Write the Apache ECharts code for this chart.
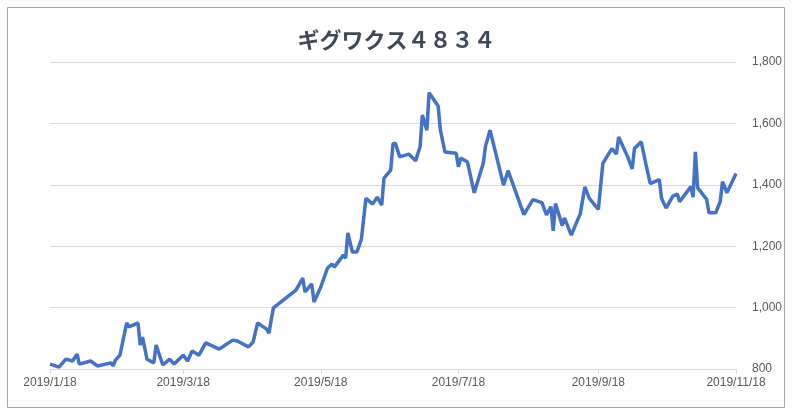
<!DOCTYPE html>
<html><head><meta charset="utf-8">
<script src="https://cdn.jsdelivr.net/npm/echarts@6/dist/echarts.min.js"></script>
<style>html,body{margin:0;padding:0;background:#fff}#c{width:793px;height:416px}</style>
</head><body><div id="c"></div>
<script>
// days since 2019/1/18
const days = [0,4,7,10,12,13,18,21,27,28,29,31,34,35,39,40,41,43,46,47,50,53,55,59,61,63,66,69,75,81,83,88,90,92,96,97,99,109,112,113,116,117,120,123,125,126,130,131,132,134,136,138,140,143,145,147,148,151,152,153,155,159,162,164,165,167,168,172,173,175,180,181,182,185,188,192,193,195,201,203,210,214,218,220,222,223,224,227,228,231,235,237,239,243,245,249,251,252,256,258,259,262,264,266,270,271,273,276,278,279,284,285,286,287,291,292,295,297,298,300,304];
const prices = [816,806,832,826,848,816,826,810,820,810,829,845,950,937,950,878,904,832,820,878,813,832,816,845,826,859,845,885,865,894,891,872,888,950,930,917,999,1057,1096,1051,1077,1018,1067,1129,1142,1132,1171,1161,1243,1181,1181,1223,1356,1337,1360,1334,1422,1448,1533,1536,1491,1500,1478,1524,1627,1578,1700,1657,1578,1507,1503,1459,1487,1474,1374,1470,1526,1578,1399,1446,1303,1352,1342,1302,1329,1250,1339,1267,1292,1236,1306,1393,1356,1320,1470,1518,1500,1556,1491,1452,1518,1540,1470,1404,1417,1356,1324,1363,1370,1345,1394,1360,1507,1390,1353,1309,1309,1345,1410,1374,1437];
const tickDays = [0,59,120,181,243,304];
const tickLabels = ['2019/1/18','2019/3/18','2019/5/18','2019/7/18','2019/9/18','2019/11/18'];
const title = 'ギグワクス４８３４';
const chart = echarts.init(document.getElementById('c'));
chart.setOption({
  animation:false,
  graphic:[{type:'rect',shape:{x:7.5,y:7.5,width:777,height:400},style:{fill:'none',stroke:'#a6a6a6',lineWidth:1}}],
  title:{text:title,left:'center',top:24,textStyle:{fontFamily:'Noto Sans CJK JP',fontSize:22,fontWeight:'bold',color:'#404a56'}},
  grid:{left:50,right:57,top:62,bottom:47},
  xAxis:{type:'value',min:0,max:304,
    axisLine:{show:true,lineStyle:{color:'#d9d9d9'}},
    axisTick:{show:true,customValues:tickDays,lineStyle:{color:'#d9d9d9'},length:5},
    splitLine:{show:false},
    axisLabel:{customValues:tickDays,color:'#595959',fontSize:12,fontFamily:'Liberation Sans',margin:8,
      formatter:v=>tickLabels[tickDays.indexOf(v)]||''}},
  yAxis:{type:'value',position:'right',min:800,max:1800,interval:200,
    axisLine:{show:false},axisTick:{show:false},
    splitLine:{lineStyle:{color:'#d9d9d9'}},
    axisLabel:{color:'#595959',fontSize:12,fontFamily:'Liberation Sans',margin:16}},
  series:[{type:'line',data:days.map((d,i)=>[d,prices[i]]),showSymbol:false,
    lineStyle:{color:'#4472c4',width:3.5},itemStyle:{color:'#4472c4'}}]
});
</script></body></html>
